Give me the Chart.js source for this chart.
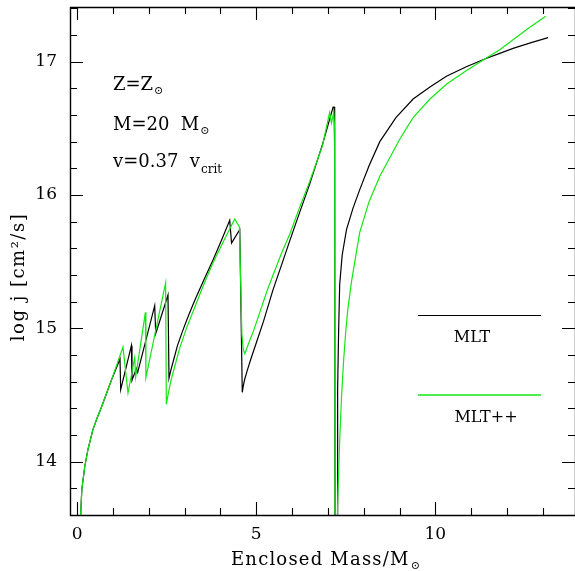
<!DOCTYPE html>
<html><head><meta charset="utf-8">
<script src="https://cdn.jsdelivr.net/npm/chart.js@4/dist/chart.umd.min.js"></script>
<style>html,body{margin:0;padding:0;background:#fff}</style>
</head><body>
<canvas id="c" width="575" height="571"></canvas>
<script>
// ---- data ----
const seriesNames = ['MLT', 'MLT++'];
const mltMass = [0.08, 0.13, 0.21, 0.30, 0.44, 0.56, 0.68, 0.955, 1.196, 1.215, 1.514, 1.531, 1.654, 1.690, 2.165, 2.193, 2.536, 2.564, 2.62, 2.70, 2.80, 2.93, 3.1, 3.3, 3.55, 3.79, 4.03, 4.26, 4.31, 4.54, 4.61, 4.64, 4.68, 4.75, 4.85, 5.0, 5.2, 5.47, 5.7, 5.94, 6.2, 6.49, 6.85, 7.0, 7.145, 7.175, 7.19, 7.20, 7.255, 7.265, 7.28, 7.30, 7.33, 7.40, 7.52, 7.70, 7.89, 8.15, 8.45, 8.9, 9.38, 9.85, 10.31, 10.85, 11.38, 11.78, 12.17, 12.7, 13.15];
const mltLogJ = [13.5, 13.79, 13.96, 14.09, 14.24, 14.33, 14.41, 14.61, 14.77, 14.54, 14.87, 14.61, 14.70, 14.67, 15.17, 14.96, 15.25, 14.625, 14.69, 14.77, 14.87, 14.97, 15.09, 15.22, 15.37, 15.51, 15.66, 15.81, 15.64, 15.74, 14.52, 14.57, 14.62, 14.685, 14.77, 14.89, 15.05, 15.29, 15.47, 15.66, 15.86, 16.08, 16.38, 16.52, 16.66, 16.66, 16.3, 13.3, 13.3, 13.9, 14.55, 14.98, 15.33, 15.55, 15.74, 15.90, 16.04, 16.22, 16.40, 16.58, 16.72, 16.81, 16.89, 16.96, 17.02, 17.06, 17.10, 17.145, 17.18];
const mltppMass = [0.08, 0.13, 0.21, 0.30, 0.44, 0.56, 0.68, 0.955, 1.279, 1.419, 1.606, 1.634, 1.905, 1.919, 2.469, 2.49, 2.55, 2.62, 2.72, 2.86, 3.05, 3.3, 3.55, 3.79, 4.1, 4.40, 4.53, 4.60, 4.64, 4.68, 4.75, 4.82, 4.91, 5.1, 5.3, 5.47, 5.7, 5.94, 6.2, 6.49, 6.85, 7.05, 7.10, 7.165, 7.19, 7.20, 7.235, 7.28, 7.33, 7.38, 7.44, 7.50, 7.56, 7.66, 7.77, 7.89, 8.15, 8.45, 9.01, 9.38, 9.85, 10.31, 10.85, 11.38, 11.8, 12.17, 12.6, 13.08];
const mltppLogJ = [13.5, 13.79, 13.96, 14.09, 14.24, 14.33, 14.41, 14.61, 14.86, 14.515, 14.78, 14.635, 15.12, 14.63, 15.34, 14.43, 14.52, 14.61, 14.71, 14.85, 15.0, 15.17, 15.34, 15.49, 15.66, 15.82, 15.76, 14.95, 14.84, 14.81, 14.86, 14.91, 14.97, 15.12, 15.28, 15.40, 15.56, 15.71, 15.90, 16.10, 16.37, 16.62, 16.54, 16.62, 16.49, 13.3, 13.3, 13.75, 14.16, 14.48, 14.76, 14.98, 15.15, 15.35, 15.53, 15.72, 15.95, 16.14, 16.42, 16.58, 16.72, 16.83, 16.93, 17.02, 17.09, 17.165, 17.25, 17.34];
const xTickLabels = [0, 5, 10];
const yTickLabels = [14, 15, 16, 17];
const xMinorTicks = [0, 1, 2, 3, 4, 5, 6, 7, 8, 9, 10, 11, 12, 13];
const yMinorTicks = [13.6, 13.8, 14, 14.2, 14.4, 14.6, 14.8, 15, 15.2, 15.4, 15.6, 15.8, 16, 16.2, 16.4, 16.6, 16.8, 17, 17.2, 17.4];

const MLT_COLOR = '#000000';
const MLTPP_COLOR = '#12e812';
const toPts = (xs, ys) => xs.map((x, i) => ({x: x, y: ys[i]}));
const SERIF = '"DejaVu Serif", serif';

function drawSub(ctx, x, y, main, sub, mainFont, subFont, subDy) {
  ctx.font = mainFont;
  ctx.fillText(main, x, y);
  const w = ctx.measureText(main).width;
  ctx.font = subFont;
  ctx.fillText(sub, x + w + 1, y + subDy);
}

const decor = {
  id: 'decor',
  afterDraw(chart) {
    const ctx = chart.ctx, a = chart.chartArea, xs = chart.scales.x, ys = chart.scales.y;
    ctx.save();
    ctx.strokeStyle = '#000';
    ctx.lineWidth = 1.4;
    ctx.beginPath();
    ctx.rect(a.left + 0.5, a.top + 0.5, a.right - a.left, a.bottom - a.top);
    ctx.stroke();
    ctx.lineWidth = 1.1;
    ctx.beginPath();
    for (const v of xMinorTicks) {
      const p = Math.round(xs.getPixelForValue(v)) + 0.5;
      const len = xTickLabels.includes(v) ? 13 : 7;
      ctx.moveTo(p, a.bottom); ctx.lineTo(p, a.bottom - len);
      ctx.moveTo(p, a.top); ctx.lineTo(p, a.top + len);
    }
    for (const v of yMinorTicks) {
      const p = Math.round(ys.getPixelForValue(v)) + 0.5;
      const len = yTickLabels.some(t => Math.abs(t - v) < 1e-6) ? 13 : 7;
      ctx.moveTo(a.left, p); ctx.lineTo(a.left + len, p);
      ctx.moveTo(a.right, p); ctx.lineTo(a.right - len, p);
    }
    ctx.stroke();

    // legend
    ctx.lineWidth = 1;
    ctx.strokeStyle = MLT_COLOR;
    ctx.beginPath(); ctx.moveTo(418, 315.5); ctx.lineTo(541, 315.5); ctx.stroke();
    ctx.lineWidth = 1.3;
    ctx.strokeStyle = MLTPP_COLOR;
    ctx.beginPath(); ctx.moveTo(418, 395); ctx.lineTo(541, 395); ctx.stroke();
    ctx.fillStyle = '#000';
    ctx.textAlign = 'center';
    ctx.textBaseline = 'alphabetic';
    ctx.font = '16px ' + SERIF;
    ctx.fillText(seriesNames[0], 472, 342);
    ctx.fillText(seriesNames[1], 486, 422);

    // annotations
    ctx.textAlign = 'left';
    const big = '18px ' + SERIF, small = '11px ' + SERIF;
    drawSub(ctx, 113, 89.5, 'Z=Z', '\u2299', big, small, 4);
    drawSub(ctx, 113, 129.5, 'M=20  M', '\u2299', big, small, 4);
    drawSub(ctx, 113, 167, 'v=0.37  v', 'crit', big, '12px ' + SERIF, 6);

    // axis titles
    ctx.letterSpacing = '1.2px';
    ctx.font = '18px ' + SERIF;
    const t = 'Enclosed Mass/M';
    ctx.fillText(t, 231, 565);
    const tw = ctx.measureText(t).width;
    ctx.letterSpacing = '0px';
    ctx.font = small;
    ctx.fillText('\u2299', 231 + tw + 1, 569);

    ctx.translate(24, 277);
    ctx.rotate(-Math.PI / 2);
    ctx.letterSpacing = '1.5px';
    ctx.font = '18px ' + SERIF;
    ctx.textAlign = 'center';
    ctx.fillText('log j [cm\u00B2/s]', 0, 0);
    ctx.restore();
  }
};

new Chart(document.getElementById('c'), {
  type: 'scatter',
  data: {
    datasets: [
      {label: seriesNames[0], data: toPts(mltMass, mltLogJ), borderColor: MLT_COLOR, borderWidth: 1.2, showLine: true, pointRadius: 0, tension: 0, order: 2},
      {label: seriesNames[1], data: toPts(mltppMass, mltppLogJ), borderColor: MLTPP_COLOR, borderWidth: 1.2, showLine: true, pointRadius: 0, tension: 0, order: 1}
    ]
  },
  options: {
    responsive: false,
    animation: false,
    devicePixelRatio: 1,
    layout: {padding: {top: 7, left: 0, right: 0, bottom: 0}},
    plugins: {legend: {display: false}, tooltip: {enabled: false}},
    scales: {
      x: {
        type: 'linear', min: -0.2, max: 13.9,
        grid: {display: false, drawTicks: false}, border: {display: false},
        ticks: {font: {family: SERIF, size: 17}, color: '#000', padding: 9, maxRotation: 0, autoSkip: false},
        afterBuildTicks: s => { s.ticks = xTickLabels.map(v => ({value: v})); },
        afterFit: s => { s.height = 56; s.paddingLeft = 0; s.paddingRight = 0; s.paddingTop = 0; s.paddingBottom = 0; }
      },
      y: {
        type: 'linear', min: 13.6, max: 17.41,
        grid: {display: false, drawTicks: false}, border: {display: false},
        ticks: {font: {family: SERIF, size: 17}, color: '#000', padding: 13, autoSkip: false},
        afterBuildTicks: s => { s.ticks = yTickLabels.map(v => ({value: v})); },
        afterFit: s => { s.width = 70; s.paddingLeft = 0; s.paddingRight = 0; s.paddingTop = 0; s.paddingBottom = 0; }
      }
    }
  },
  plugins: [decor]
});
</script>
</body></html>
